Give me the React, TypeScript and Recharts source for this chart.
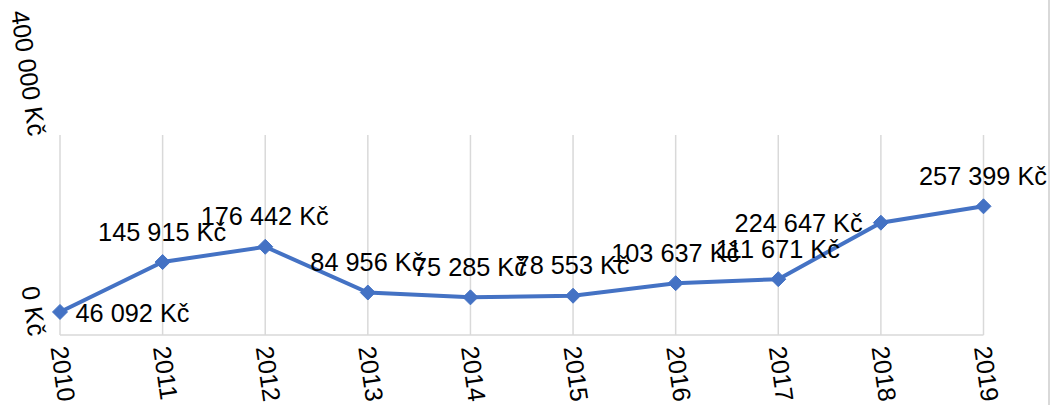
import React from 'react';
import { LineChart, Line, XAxis, YAxis, CartesianGrid } from 'recharts';

const years = ['2010', '2011', '2012', '2013', '2014', '2015', '2016', '2017', '2018', '2019'];
const amounts = [46092, 145915, 176442, 84956, 75285, 78553, 103637, 111671, 224647, 257399];
const labelSides = ['right', 'top', 'top', 'top', 'top', 'top', 'top', 'top', 'left', 'top'];
const yTicks = [0, 400000];

const data = years.map((year, i) => ({ year, amount: amounts[i] }));

const FONT = '"Liberation Sans", Arial, sans-serif';
const BLUE = '#4472C4';
const GRID = '#d9d9d9';
const ROT = 82;
const AXIS_FS = 25;
const LABEL_FS = 25.3;

const formatKc = (v: number) => String(v).replace(/\B(?=(\d{3})+(?!\d))/g, ' ') + ' Kč';

const XTick = (props: any) => {
  const { x, payload } = props;
  const bx = x - 9.5;
  const by = 347.5;
  return (
    <text
      x={bx}
      y={by}
      transform={`rotate(${ROT}, ${bx}, ${by})`}
      textAnchor="start"
      fontFamily={FONT}
      fontSize={AXIS_FS}
      fill="#000"
    >
      {payload.value}
    </text>
  );
};

const YTick = (props: any) => {
  const { y, payload } = props;
  const bx = 28.5;
  const by = y + 2;
  return (
    <text
      x={bx}
      y={by}
      transform={`rotate(${ROT}, ${bx}, ${by})`}
      textAnchor="end"
      fontFamily={FONT}
      fontSize={AXIS_FS}
      fill="#000"
    >
      {formatKc(payload.value)}
    </text>
  );
};

const Diamond = (props: any) => {
  const { cx, cy, index } = props;
  if (cx == null || cy == null) return <g key={`d${index}`} />;
  const r = 7.5;
  return (
    <path
      key={`d${index}`}
      d={`M${cx},${cy - r} L${cx + r},${cy} L${cx},${cy + r} L${cx - r},${cy} Z`}
      fill={BLUE}
      stroke={BLUE}
      strokeWidth={1}
    />
  );
};

const ValueLabel = (props: any) => {
  const { x, y, index, value } = props;
  const side = labelSides[index];
  let tx = x - 0.5;
  let ty = y - 21.3;
  let anchor: 'start' | 'middle' | 'end' = 'middle';
  if (side === 'right') {
    tx = x + 15.5;
    ty = y + 10;
    anchor = 'start';
  } else if (side === 'left') {
    tx = x - 18.3;
    ty = y + 9;
    anchor = 'end';
  }
  return (
    <text
      key={`l${index}`}
      x={tx}
      y={ty}
      textAnchor={anchor}
      fontFamily={FONT}
      fontSize={LABEL_FS}
      fill="#000"
    >
      {formatKc(value)}
    </text>
  );
};

export default function App() {
  return (
    <div
      style={{
        position: 'absolute',
        left: 0,
        top: 0,
        width: 1052,
        height: 405,
        background: '#fff',
        overflow: 'hidden',
      }}
    >
      <LineChart
        width={1052}
        height={405}
        data={data}
        margin={{ top: 135, right: 68.5, bottom: 0, left: 0 }}
      >
        <CartesianGrid horizontal={false} vertical={true} stroke={GRID} strokeWidth={1.5} />
        <XAxis
          dataKey="year"
          height={70}
          axisLine={{ stroke: GRID, strokeWidth: 1.5 }}
          tickLine={false}
          tick={<XTick />}
          interval={0}
        />
        <YAxis
          width={60}
          domain={[0, 400000]}
          ticks={yTicks}
          axisLine={false}
          tickLine={false}
          tick={<YTick />}
          interval={0}
        />
        <Line
          type="linear"
          dataKey="amount"
          stroke={BLUE}
          strokeWidth={4}
          dot={Diamond}
          activeDot={false}
          label={ValueLabel}
          isAnimationActive={false}
        />
      </LineChart>
      <div
        style={{
          position: 'absolute',
          left: 1048,
          top: 0,
          width: 1.5,
          height: 405,
          background: GRID,
        }}
      />
    </div>
  );
}
